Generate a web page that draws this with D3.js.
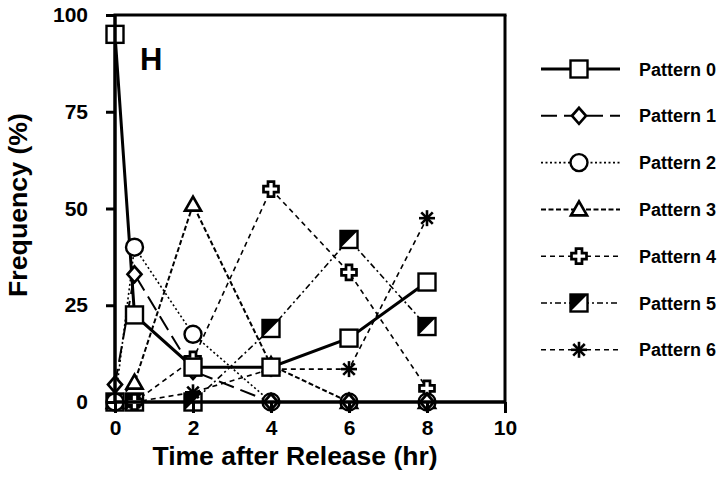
<!DOCTYPE html>
<html><head><meta charset="utf-8">
<script src="https://cdn.jsdelivr.net/npm/d3@7"></script>
<style>
body{margin:0;background:#fff;}
text{font-family:"Liberation Sans",Arial,Helvetica,sans-serif;font-weight:bold;fill:#000;}
</style></head>
<body><svg id="c" width="720" height="480"></svg>
<script>
const times = [0, 0.5, 2, 4, 6, 8];
const seriesNames = ["Pattern 0","Pattern 1","Pattern 2","Pattern 3","Pattern 4","Pattern 5","Pattern 6"];
const pattern0 = [95, 22.5, 9, 9, 16.5, 31];
const pattern1 = [4.5, 33, 8, 0, 0, 0];
const pattern2 = [0, 40, 17.5, 0, 0, 0];
const pattern3 = [0, 5, 51, 9.5, 0, 0];
const pattern4 = [0, 0, 11, 55, 33.5, 3.5];
const pattern5 = [0, 0, 0, 19, 42, 19.5];
const pattern6 = [0, 0, 2.5, 8.5, 8.5, 47.5];
const xTicks = [0, 2, 4, 6, 8, 10];
const yTicks = [0, 25, 50, 75, 100];
const panelLabel = "H";
const xTitle = "Time after Release (hr)";
const yTitle = "Frequency (%)";

const allValues = [pattern0,pattern1,pattern2,pattern3,pattern4,pattern5,pattern6];
const styles = [
  {dash:null, w:3, sym:"square"},
  {dash:"16,7", w:2, sym:"diamond"},
  {dash:"2,2.5", w:1.6, sym:"circle"},
  {dash:"5,2.5", w:2, sym:"triangle"},
  {dash:"5,4", w:1.6, sym:"cross"},
  {dash:"6,3,2,3", w:1.6, sym:"half"},
  {dash:"5,4", w:1.6, sym:"star"}
];

const svg = d3.select("#c");
const x = d3.scaleLinear().domain([0,10]).range([115,505]);
const y = d3.scaleLinear().domain([0,100]).range([402,15]);

const line = d3.line().x((d,i)=>x(times[i])).y(d=>y(d));
const order = [5,6,4,3,2,1,0];
order.forEach(k=>{
  svg.append("path").datum(allValues[k]).attr("d",line)
    .attr("fill","none").attr("stroke","#000")
    .attr("stroke-width",styles[k].w)
    .attr("stroke-dasharray",styles[k].dash);
});

function drawSymbol(g, sym){
  const sw = 2.4;
  if(sym==="square"){
    g.append("rect").attr("x",-8.5).attr("y",-8.5).attr("width",17).attr("height",17)
      .attr("fill","#fff").attr("stroke","#000").attr("stroke-width",sw);
  } else if(sym==="diamond"){
    g.append("path").attr("d","M0,-8L7,0L0,8L-7,0Z")
      .attr("fill","#fff").attr("stroke","#000").attr("stroke-width",sw+0.3);
  } else if(sym==="circle"){
    g.append("circle").attr("r",8.5).attr("fill","#fff").attr("stroke","#000").attr("stroke-width",sw);
  } else if(sym==="triangle"){
    g.append("path").attr("d","M0,-8L8,6L-8,6Z")
      .attr("fill","#fff").attr("stroke","#000").attr("stroke-width",sw+0.3);
  } else if(sym==="cross"){
    g.append("path").attr("d","M-3,-7.5H3V-3H7.5V3H3V7.5H-3V3H-7.5V-3H-3Z")
      .attr("fill","#fff").attr("stroke","#000").attr("stroke-width",sw+0.3);
  } else if(sym==="half"){
    g.append("rect").attr("x",-8.5).attr("y",-8.5).attr("width",17).attr("height",17)
      .attr("fill","#fff").attr("stroke","#000").attr("stroke-width",sw);
    g.append("path").attr("d","M-8.5,-8.5L8.5,-8.5L-8.5,8.5Z").attr("fill","#000");
  } else if(sym==="star"){
    const r=8;
    [[0,-r,0,r],[-r,0,r,0],[-r*0.72,-r*0.72,r*0.72,r*0.72],[-r*0.72,r*0.72,r*0.72,-r*0.72]].forEach(s=>{
      g.append("line").attr("x1",s[0]).attr("y1",s[1]).attr("x2",s[2]).attr("y2",s[3])
        .attr("stroke","#000").attr("stroke-width",2.6);
    });
  }
}

order.forEach(k=>{
  allValues[k].forEach((v,i)=>{
    const g = svg.append("g").attr("transform",`translate(${x(times[i])},${y(v)})`);
    drawSymbol(g, styles[k].sym);
  });
});

// frame
svg.append("line").attr("x1",113.5).attr("x2",506.5).attr("y1",15).attr("y2",15).attr("stroke","#000").attr("stroke-width",3);
svg.append("line").attr("x1",505).attr("x2",505).attr("y1",15).attr("y2",402).attr("stroke","#000").attr("stroke-width",3);

// axes
const xAxis = svg.append("g").attr("transform","translate(0,402)")
  .call(d3.axisBottom(x).tickValues(xTicks).tickFormat(d3.format("d")).tickSize(11).tickPadding(7));
const yAxis = svg.append("g").attr("transform","translate(115,0)")
  .call(d3.axisLeft(y).tickValues(yTicks).tickSize(9).tickPadding(18));
[xAxis,yAxis].forEach(a=>{
  a.select(".domain").attr("stroke","#000").attr("stroke-width",3.5);
  a.selectAll(".tick line").attr("stroke","#000").attr("stroke-width",3);
  a.selectAll("text").style("font-size","21px").style("font-family","'Liberation Sans',Arial,sans-serif").style("font-weight","bold").attr("fill","#000");
});
xAxis.select(".domain").attr("d","M115,0H505");
yAxis.select(".domain").attr("d","M0,402V15");

// titles
svg.append("text").attr("x",295).attr("y",465).attr("text-anchor","middle")
  .style("font-size","25px").attr("textLength",285).attr("lengthAdjust","spacingAndGlyphs").text(xTitle);
svg.append("text").attr("transform","translate(27,205) rotate(-90)").attr("text-anchor","middle")
  .style("font-size","25px").attr("textLength",184).attr("lengthAdjust","spacingAndGlyphs").text(yTitle);
svg.append("text").attr("x",140).attr("y",70).style("font-size","31px").text(panelLabel);

// legend
const legY0 = 69, legDy = 46.8;
seriesNames.forEach((name,k)=>{
  const ly = legY0 + k*legDy;
  svg.append("line").attr("x1",541).attr("x2",620).attr("y1",ly).attr("y2",ly)
    .attr("stroke","#000").attr("stroke-width",styles[k].w)
    .attr("stroke-dasharray",styles[k].dash);
  const g = svg.append("g").attr("transform",`translate(579,${ly})`);
  drawSymbol(g, styles[k].sym);
  svg.append("text").attr("x",639).attr("y",ly+6.5).style("font-size","18px").text(name);
});
</script></body></html>
